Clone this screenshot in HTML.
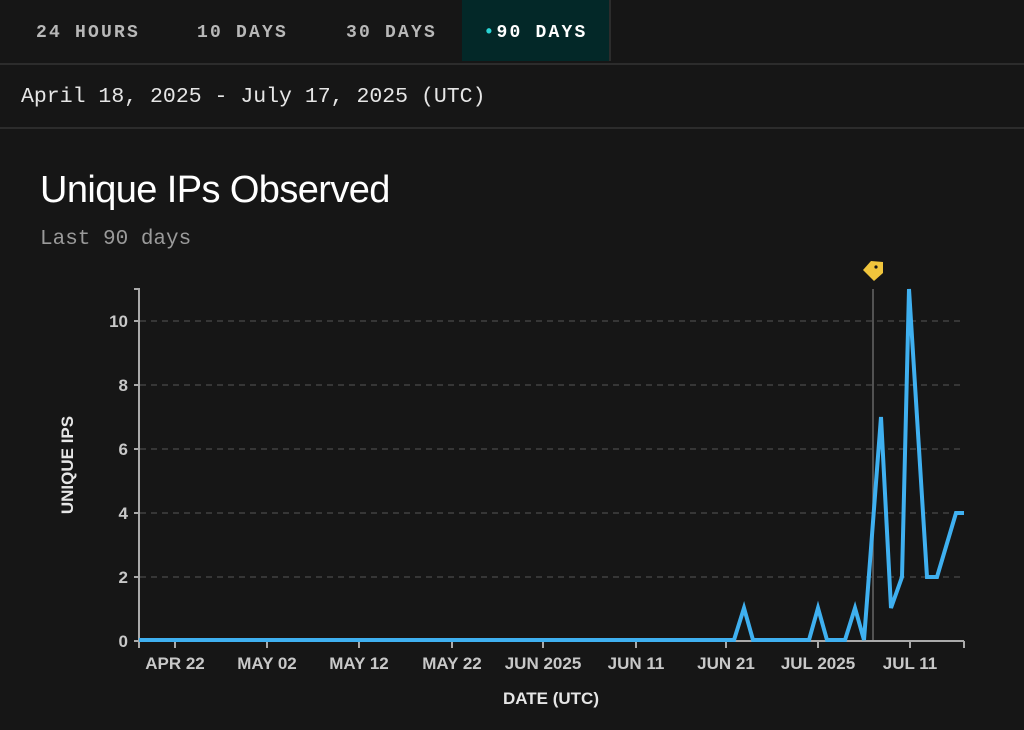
<!DOCTYPE html>
<html><head><meta charset="utf-8"><style>
html,body{margin:0;padding:0;background:#161616;}
body{width:1024px;height:730px;position:relative;overflow:hidden;font-family:"Liberation Sans",sans-serif;}
.tabs{position:absolute;left:0;top:0;width:1024px;height:63px;border-bottom:2px solid #2c2c2c;background:#161616;}
.tab{position:absolute;top:0;height:61px;line-height:66px;font-family:"Liberation Mono",monospace;font-weight:bold;font-size:18px;letter-spacing:2.2px;color:#b8b8b8;}
.act{left:462px;width:147px;background:#032828;color:#fff;text-align:center;border-right:2px solid #2c2c2c;}
.date{position:absolute;left:21px;top:85px;font-family:"Liberation Mono",monospace;font-size:21.5px;color:#e6e6e6;}
.sep{position:absolute;left:0;top:127px;width:1024px;height:2px;background:#2c2c2c;}
.title{position:absolute;left:40px;top:169px;font-size:38px;color:#fff;letter-spacing:-0.6px;}
.sub{position:absolute;left:40px;top:228px;font-family:"Liberation Mono",monospace;font-size:21px;color:#9a9a9a;}
</style></head><body>
<div class="tabs">
<div class="tab" style="left:36px">24 HOURS</div>
<div class="tab" style="left:197px">10 DAYS</div>
<div class="tab" style="left:346px">30 DAYS</div>
<div class="tab act"><span style="color:#2ad4d4;font-size:18px">•</span>90 DAYS</div>
</div>
<div class="date">April 18, 2025 - July 17, 2025 (UTC)</div>
<div class="sep"></div>
<div class="title">Unique IPs Observed</div>
<div class="sub">Last 90 days</div>
<svg width="1024" height="730" style="position:absolute;left:0;top:0">
<g stroke="#555" stroke-dasharray="6,5" stroke-width="1">
<line x1="140" y1="321" x2="964" y2="321"/><line x1="140" y1="385" x2="964" y2="385"/>
<line x1="140" y1="449" x2="964" y2="449"/><line x1="140" y1="513" x2="964" y2="513"/>
<line x1="140" y1="577" x2="964" y2="577"/>
</g>
<g stroke="#aaa" stroke-width="2" fill="none">
<path d="M134 289H139V640"/>
<path d="M139 641H964"/>
<path d="M134 321H139M134 385H139M134 449H139M134 513H139M134 577H139M134 641H139"/>
<path d="M139 641V648M175 641V648M267 641V648M359 641V648M452 641V648M543 641V648M636 641V648M726 641V648M818 641V648M910 641V648M964 641V648"/>
</g>
<line x1="873" y1="289" x2="873" y2="640" stroke="#666" stroke-width="1.5"/>
<path d="M863 270 L871 261 L883 262 L883 273 L874 281 Z" fill="#f0c53c"/>
<circle cx="876" cy="267" r="1.6" fill="#161616"/>
<polyline fill="none" stroke="#3fb0f0" stroke-width="4" stroke-linejoin="miter" points="139,640 734,640 744,608 753,640 809,640 818,608 827,640 845,640 855,608 864,640 881,417 891,608 902,577 909,289 927,577 937,577 956,513 964,513"/>
<g fill="#c8c8c8" font-family="Liberation Sans,sans-serif" font-weight="bold" font-size="17" text-anchor="end">
<text x="128" y="327">10</text><text x="128" y="391">8</text><text x="128" y="455">6</text>
<text x="128" y="519">4</text><text x="128" y="583">2</text><text x="128" y="647">0</text>
</g>
<g fill="#c8c8c8" font-family="Liberation Sans,sans-serif" font-weight="bold" font-size="17" text-anchor="middle">
<text x="175" y="669">APR 22</text><text x="267" y="669">MAY 02</text><text x="359" y="669">MAY 12</text>
<text x="452" y="669">MAY 22</text><text x="543" y="669">JUN 2025</text><text x="636" y="669">JUN 11</text>
<text x="726" y="669">JUN 21</text><text x="818" y="669">JUL 2025</text><text x="910" y="669">JUL 11</text>
</g>
<text x="551" y="704" fill="#e6e6e6" font-weight="bold" font-size="17" text-anchor="middle">DATE (UTC)</text>
<text x="0" y="0" transform="translate(73,465) rotate(-90)" fill="#e6e6e6" font-weight="bold" font-size="17" text-anchor="middle">UNIQUE IPS</text>
</svg>
</body></html>
